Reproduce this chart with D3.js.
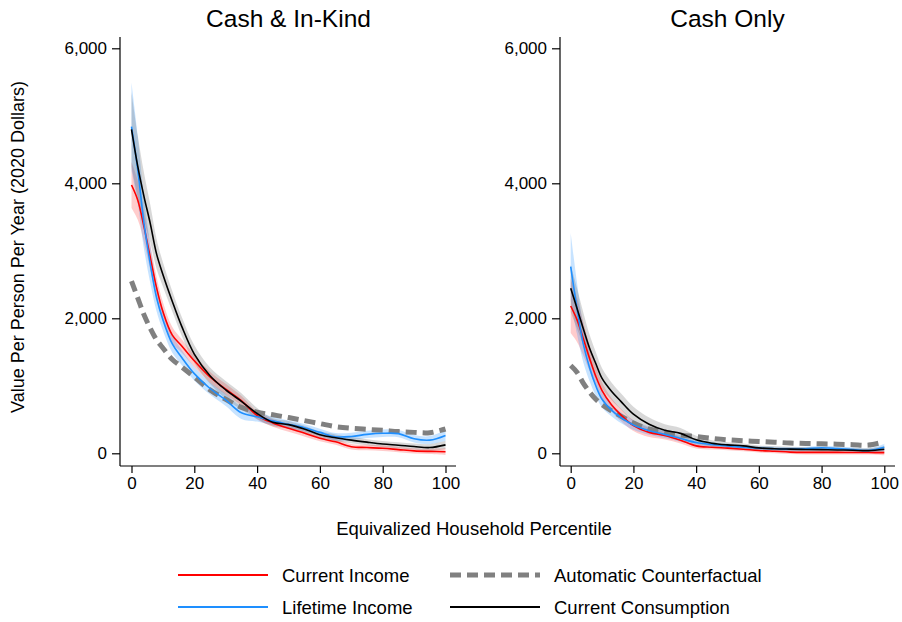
<!DOCTYPE html>
<html>
<head>
<meta charset="utf-8">
<script src="https://cdn.jsdelivr.net/npm/d3@7"></script>
<style>
  body { margin: 0; background: #fff; }
  text { font-family: "Liberation Sans", Arial, sans-serif; fill: #000; }
</style>
</head>
<body>
<svg id="chart" width="902" height="622"></svg>
<script>
// ---- Data ----
const percentiles = [0,2,4,6,8,10,13,16,20,25,30,35,40,45,50,55,60,65,70,75,80,85,90,95,100];
const panelTitles = ["Cash & In-Kind", "Cash Only"];
const seriesNames = ["Current Income", "Lifetime Income", "Automatic Counterfactual", "Current Consumption"];
const yTicks = [0, 2000, 4000, 6000];
const xTicks = [0, 20, 40, 60, 80, 100];

// Cash & In-Kind
const incomeL      = [3975,3750,3350,2900,2450,2100,1750,1590,1370,1130,950,780,560,450,370,300,222,170,98,85,74,55,36,28,24];
const lifetimeL    = [4840,4200,3400,2800,2300,1980,1620,1420,1180,960,790,600,540,480,430,380,310,245,250,280,296,292,215,195,265];
const counterL     = [2550,2300,2050,1850,1680,1560,1390,1280,1130,940,800,680,610,570,530,485,440,395,370,355,340,322,310,305,360];
const consumptionL = [4800,4250,3800,3400,2950,2650,2250,1880,1470,1150,940,770,590,460,425,360,275,230,195,165,138,120,100,85,125];
const incomeCIL      = [340,290,230,190,160,140,120,100,90,80,80,70,60,55,50,50,45,45,40,40,40,40,40,40,50];
const lifetimeCIL    = [650,500,380,280,200,160,130,110,100,90,90,90,70,60,55,55,55,55,55,55,55,55,55,60,80];
const consumptionCIL = [550,450,350,280,220,180,150,140,130,120,130,120,80,60,55,50,50,50,45,45,45,45,45,50,60];

// Cash Only
const incomeR      = [2182,1980,1700,1410,1140,930,720,570,410,310,265,195,110,90,76,60,42,30,18,14,14,13,12,11,10];
const lifetimeR    = [2764,2150,1620,1270,1000,800,640,530,420,335,280,220,160,130,110,90,76,68,62,68,82,70,55,42,89];
const counterR     = [1300,1200,1040,910,800,720,630,550,450,360,315,270,248,222,200,185,175,165,152,145,140,135,128,122,172];
const consumptionR = [2444,2150,1850,1560,1330,1110,920,770,580,430,340,295,200,150,125,110,80,68,62,57,54,50,45,40,60];
const incomeCIR      = [400,330,250,190,150,120,100,90,80,70,60,50,40,35,30,30,30,30,30,30,30,30,30,30,40];
const lifetimeCIR    = [500,380,270,200,150,120,90,80,70,60,55,50,40,35,30,30,30,30,30,30,30,30,30,30,50];
const consumptionCIR = [350,300,240,200,170,150,130,120,110,100,90,80,60,45,40,35,35,35,35,35,35,35,35,35,45];

// ---- Styles ----
const colors = { income: "#ff0000", lifetime: "#1e8fff", counter: "#808080", consumption: "#000000" };
const bandColors = { income: "rgba(255,0,0,0.20)", lifetime: "rgba(30,143,255,0.25)", consumption: "rgba(100,100,100,0.25)" };

const panels = [
  { title: panelTitles[0], axisX: 120, x0: 131.5, x1: 445.5, xEnd: 456,
    income: incomeL, lifetime: lifetimeL, counter: counterL, consumption: consumptionL,
    incomeCI: incomeCIL, lifetimeCI: lifetimeCIL, consumptionCI: consumptionCIL },
  { title: panelTitles[1], axisX: 560, x0: 570.7, x1: 884.3, xEnd: 895,
    income: incomeR, lifetime: lifetimeR, counter: counterR, consumption: consumptionR,
    incomeCI: incomeCIR, lifetimeCI: lifetimeCIR, consumptionCI: consumptionCIR }
];

const svg = d3.select("#chart");
svg.append("rect").attr("width", 902).attr("height", 622).attr("fill", "#fff");

const y = d3.scaleLinear().domain([0, 6000]).range([453.3, 48.3]);
const yTop = 37, yBottom = 466;
const curve = d3.curveCatmullRom.alpha(0.5);

panels.forEach(p => {
  const x = d3.scaleLinear().domain([0, 100]).range([p.x0, p.x1]);
  const g = svg.append("g");

  // title
  g.append("text").attr("x", (p.x0 + p.x1) / 2).attr("y", 27)
    .attr("text-anchor", "middle").attr("font-size", 24.5).text(p.title);

  // bands
  ["income", "lifetime", "consumption"].forEach(k => {
    const vals = p[k], ci = p[k + "CI"];
    const area = d3.area()
      .x((d, i) => x(percentiles[i]))
      .y0((d, i) => y(Math.max(vals[i] - ci[i], -150)))
      .y1((d, i) => y(vals[i] + ci[i]))
      .curve(curve);
    g.append("path").attr("d", area(vals)).attr("fill", bandColors[k]).attr("stroke", "none");
  });

  const line = d3.line().x((d, i) => x(percentiles[i])).y(d => y(d)).curve(curve);

  g.append("path").attr("d", line(p.counter)).attr("fill", "none")
    .attr("stroke", colors.counter).attr("stroke-width", 5).attr("stroke-dasharray", "11,6");
  ["income", "lifetime", "consumption"].forEach(k => {
    g.append("path").attr("d", line(p[k])).attr("fill", "none")
      .attr("stroke", colors[k]).attr("stroke-width", 1.6);
  });

  // y axis
  const yAxis = d3.axisLeft(y).tickValues(yTicks).tickFormat(d3.format(",")).tickSize(8).tickPadding(5);
  const ya = g.append("g").attr("transform", `translate(${p.axisX},0)`).call(yAxis);
  ya.select(".domain").remove();
  ya.append("line").attr("x1", 0).attr("x2", 0).attr("y1", yTop).attr("y2", yBottom)
    .attr("stroke", "#000").attr("stroke-width", 1.2);
  ya.selectAll(".tick line").attr("stroke-width", 1.2);
  ya.selectAll(".tick text").attr("font-size", 17).attr("font-family", "Liberation Sans, Arial, sans-serif").attr("fill", "#000");

  // x axis
  const xAxis = d3.axisBottom(x).tickValues(xTicks).tickSize(7).tickPadding(4);
  const xa = g.append("g").attr("transform", `translate(0,${yBottom})`).call(xAxis);
  xa.select(".domain").remove();
  xa.append("line").attr("x1", p.axisX).attr("x2", p.xEnd).attr("y1", 0).attr("y2", 0)
    .attr("stroke", "#000").attr("stroke-width", 1.2);
  xa.selectAll(".tick line").attr("stroke-width", 1.2);
  xa.selectAll(".tick text").attr("font-size", 17).attr("font-family", "Liberation Sans, Arial, sans-serif").attr("fill", "#000");
});

// axis titles
svg.append("text").attr("transform", "translate(24,247) rotate(-90)")
  .attr("text-anchor", "middle").attr("font-size", 18).text("Value Per Person Per Year (2020 Dollars)");
svg.append("text").attr("x", 474).attr("y", 535)
  .attr("text-anchor", "middle").attr("font-size", 18.5).text("Equivalized Household Percentile");

// legend
const legendItems = [
  { name: seriesNames[0], key: "income", lx: 178, ly: 575 },
  { name: seriesNames[2], key: "counter", lx: 450, ly: 575 },
  { name: seriesNames[1], key: "lifetime", lx: 178, ly: 607 },
  { name: seriesNames[3], key: "consumption", lx: 450, ly: 607 }
];
const lg = svg.append("g");
legendItems.forEach(it => {
  const isDash = it.key === "counter";
  lg.append("line").attr("x1", it.lx).attr("x2", it.lx + 90).attr("y1", it.ly).attr("y2", it.ly)
    .attr("stroke", colors[it.key]).attr("stroke-width", isDash ? 5 : 2)
    .attr("stroke-dasharray", isDash ? "11,6" : null);
  lg.append("text").attr("x", it.lx + 104).attr("y", it.ly + 7)
    .attr("font-size", 18.5).text(it.name);
});
</script>
</body>
</html>
